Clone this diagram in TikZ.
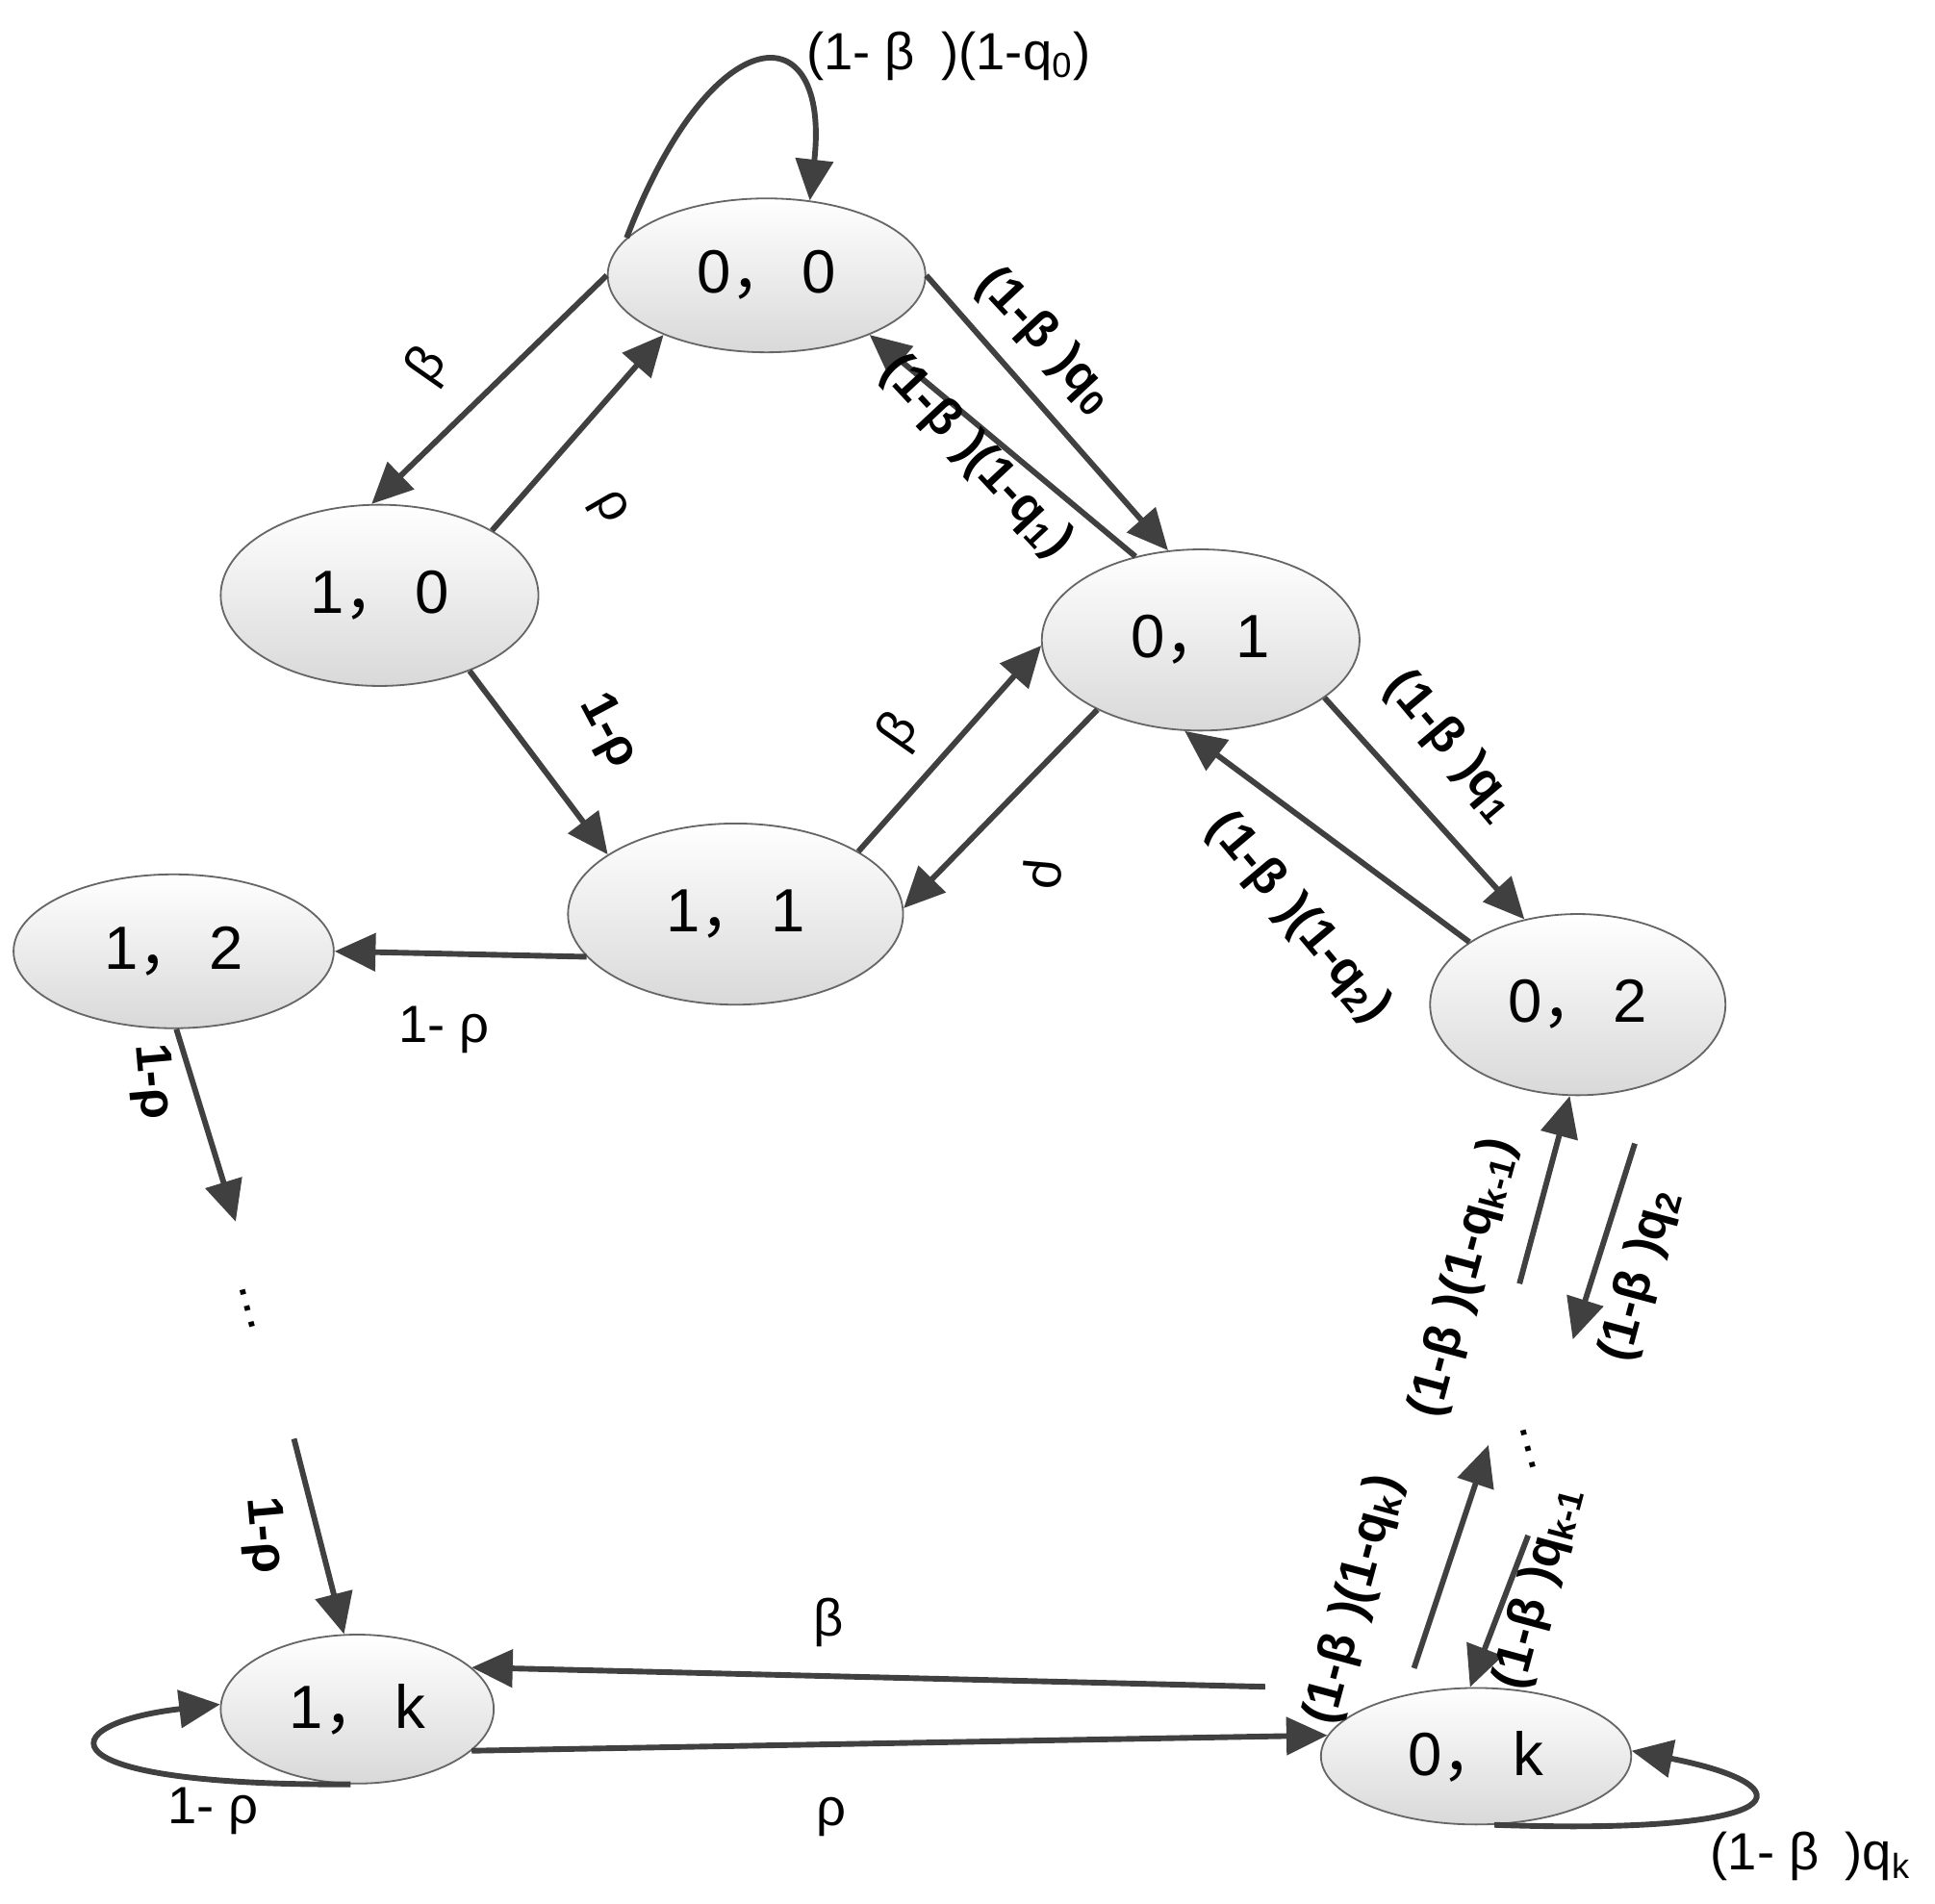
\documentclass[tikz,border=0pt]{standalone}
\usepackage{fontspec}
\setmainfont{Liberation Sans}
\newfontfamily\cjk{Noto Sans CJK SC}
\usetikzlibrary{shapes.geometric,arrows.meta}

\tikzset{
	state/.style={shape=ellipse,draw=black!60,top color=white,bottom color=black!15,inner sep=0pt,font=\fontsize{14}{16}\selectfont},
	trans/.style={-{Triangle[length=0.33cm,width=0.3cm]},line width=1.3pt,draw=black!75},
	lbl/.style={font=\fontsize{12}{14}\selectfont},
	blbl/.style={font=\bfseries\fontsize{11.5}{14}\selectfont}
}
\newcommand{\cm}{{\cjk ，}\,}

\begin{document}
\begin{tikzpicture}[x=0.01cm,y=-0.01cm]
	\useasboundingbox (0,0) rectangle (1560,1535);

	\node[state,minimum width=2.56cm,minimum height=1.24cm] (s00) at (618,222)  {0\cm 0};
	\node[state,minimum width=2.56cm,minimum height=1.46cm] (s10) at (306,480)  {1\cm 0};
	\node[state,minimum width=2.56cm,minimum height=1.46cm] (s01) at (968,516)  {0\cm 1};
	\node[state,minimum width=2.70cm,minimum height=1.46cm] (s11) at (593,737)  {1\cm 1};
	\node[state,minimum width=2.58cm,minimum height=1.24cm] (s12) at (140,767)  {1\cm 2};
	\node[state,minimum width=2.38cm,minimum height=1.46cm] (s02) at (1272,810) {0\cm 2};
	\node[state,minimum width=2.20cm,minimum height=1.20cm] (s1k) at (288,1378) {1\cm k};
	\node[state,minimum width=2.50cm,minimum height=1.10cm] (s0k) at (1190,1416) {0\cm k};

	\node[lbl,rotate=-75] (dl) at (200,1055) {…};
	\node[lbl,rotate=-75] (dr) at (1232,1168) {…};

	% self loops
	\draw[trans] (s00.165) .. controls (575,10) and (670,10) .. (s00.60);
	\draw[trans] (s1k.-95) .. controls (30,1440) and (40,1390) .. (s1k.178);
	\draw[trans] (s0k.-75) .. controls (1450,1480) and (1460,1440) .. (s0k.2);

	% upper square
	\draw[trans] (s00.180) -- (s10.95);
	\draw[trans] (s10.30) -- (s00.-150);
	\draw[trans] (s00.0) -- (s01.110);
	\draw[trans] (s01.128) -- (s00.-30);
	\draw[trans] (s10.-40) -- (s11.155);
	\draw[trans] (s11.27) -- (s01.-178);
	\draw[trans] (s01.-146) -- (s11.2);
	\draw[trans] (s01.-25) -- (s02.122);
	\draw[trans] (s02.150) -- (s01.-100);

	% left chain
	\draw[trans] (s11.-164) -- (s12.0);
	\draw[trans] (s12.-88) -- (190,985);
	\draw[trans] (237,1160) -- (s1k.100);

	% bottom
	\draw[trans] (1020,1360) -- (s1k.20);
	\draw[trans] (s1k.-20) -- (s0k.172);

	% right chain
	\draw[trans] (1140,1345) -- (1200,1165);
	\draw[trans] (1232,1238) -- (s0k.95);
	\draw[trans] (1225,1035) -- (s02.-95);
	\draw[trans] (1318,922) -- (1268,1080);

	% labels
	\node[lbl] at (765,45) {(1- β\,\,\,)(1-q\textsubscript{0})};
	\node[lbl,rotate=55] at (345,295) {β};
	\node[lbl,rotate=-60] at (490,410) {ρ};
	\node[blbl,rotate=-47] at (843,275) {(1-β\,\,)q\textsubscript{0}};
	\node[blbl,rotate=-47] at (787,368) {(1-β\,\,)(1-q\textsubscript{1})};
	\node[blbl,rotate=-62] at (490,590) {1-ρ};
	\node[lbl,rotate=55] at (725,590) {β};
	\node[lbl,rotate=-95] at (840,705) {ρ};
	\node[blbl,rotate=-50] at (1170,602) {(1-β\,\,)q\textsubscript{1}};
	\node[blbl,rotate=-50] at (1047,740) {(1-β\,\,)(1-q\textsubscript{2})};
	\node[lbl] at (358,830) {1- ρ};
	\node[blbl,rotate=-85] at (122,872) {1-ρ};
	\node[blbl,rotate=-85] at (212,1238) {1-ρ};
	\node[lbl] at (668,1308) {β};
	\node[lbl] at (670,1465) {ρ};
	\node[lbl] at (172,1460) {1- ρ};
	\node[lbl] at (1460,1497) {(1- β\,\,\,)q\textsubscript{k}};
	\node[blbl,rotate=75] at (1092,1290) {(1-β\,\,)(1-q\textsubscript{k})};
	\node[blbl,rotate=75] at (1240,1280) {(1-β\,\,)q\textsubscript{k-1}};
	\node[blbl,rotate=75] at (1180,1030) {(1-β\,\,)(1-q\textsubscript{k-1})};
	\node[blbl,rotate=75] at (1322,1028) {(1-β\,\,)q\textsubscript{2}};

\end{tikzpicture}
\end{document}
